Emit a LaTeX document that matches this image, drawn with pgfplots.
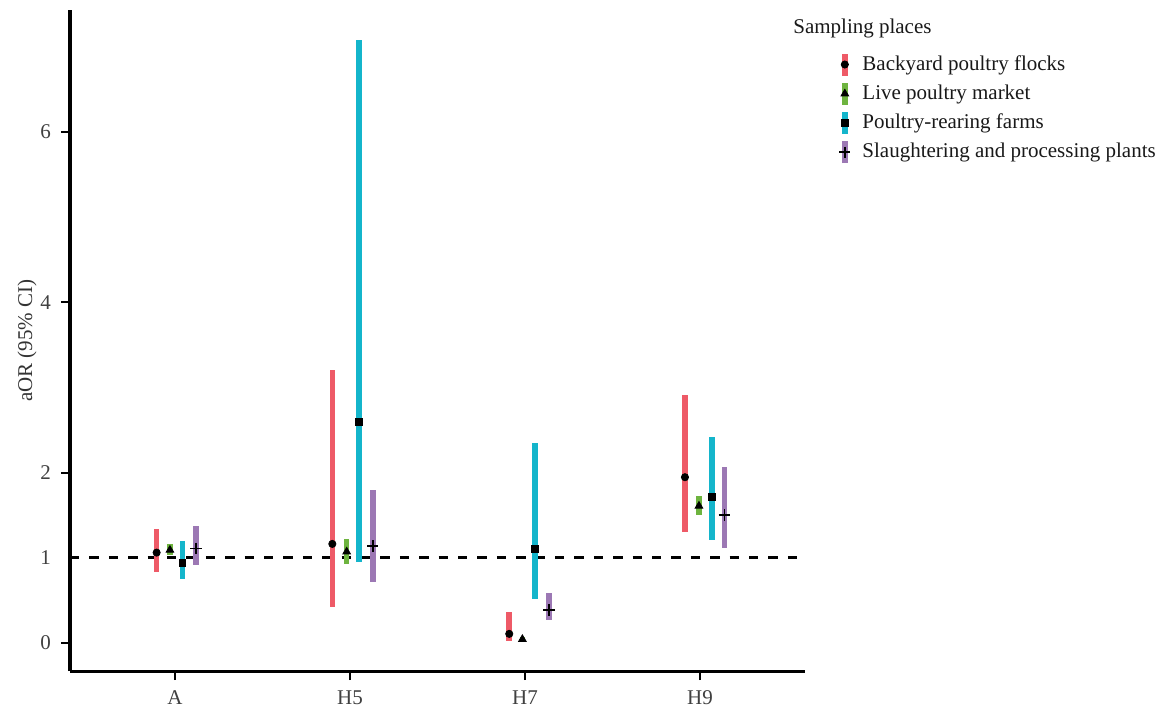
\documentclass[border=0pt]{standalone}
\usepackage{fontspec}
\setmainfont{Liberation Serif}
\usepackage{pgfplots}
\pgfplotsset{compat=1.18}
\usepackage{pgfplotstable}

\definecolor{cR}{HTML}{EE5A67}
\definecolor{cG}{HTML}{6EB43F}
\definecolor{cC}{HTML}{14B5CB}
\definecolor{cP}{HTML}{9C78B4}

% x = dodged position, y = aOR, lo/hi = 95% CI
\pgfplotstableread{
x     y      lo     hi
0.895 1.060  0.837  1.338
1.899 1.162  0.426  3.204
2.910 0.106  0.027  0.360
3.914 1.945  1.306  2.911
}\backyard
\pgfplotstableread{
x     y      lo     hi
0.971 1.090  1.030  1.158
1.981 1.070  0.927  1.220
2.985 0.043  0.020  0.070
3.994 1.608  1.502  1.725
}\market
\pgfplotstableread{
x     y      lo     hi
1.042 0.943  0.748  1.197
2.053 2.597  0.955  7.077
3.057 1.103  0.516  2.344
4.069 1.710  1.209  2.421
}\farms
\pgfplotstableread{
x     y      lo     hi
1.120 1.110  0.915  1.377
2.130 1.138  0.720  1.796
3.137 0.387  0.270  0.590
4.139 1.502  1.119  2.062
}\plants

\pgfplotsset{
  ci/.style={forget plot, draw=none, mark=none,
    error bars/.cd, y dir=both, y explicit,
    error bar style={line width=2.8pt, #1}, error mark=none},
  lgkey/.style={legend image code/.code={%
      \draw[line width=2.8pt,#1] (0.3em,-5.5pt) -- (0.3em,5.5pt);
      \draw[##1] plot coordinates {(0.3em,0pt)};}},
}

\begin{document}
\begin{tikzpicture}
\useasboundingbox (-35pt,-20pt) rectangle (547.5pt,335.5pt);
\begin{axis}[
    scale only axis,
    width=367.5pt, height=330.5pt,
    xmin=0.4, xmax=4.6,
    ymin=-0.33, ymax=7.43,
    axis lines=left,
    axis line style={-, line width=1.5pt},
    xtick={1,2,3,4},
    xticklabels={A,H5,H7,H9},
    ytick={0,2,4,6},
    extra y ticks={1},
    extra y tick style={tick style={draw=none}},
    tick align=outside,
    major tick length=4.5pt,
    tick style={black, line width=1pt},
    minor tick num=0,
    font=\fontsize{10.5}{12.6}\selectfont,
    tick label style={black!75, font=\fontsize{10.5}{12.6}\selectfont},
    yticklabel style={xshift=-1.5pt},
    xticklabel style={yshift=-2pt},
    /pgf/number format/assume math mode=true,
    ylabel={aOR (95\% CI)},
    ylabel style={at={(axis description cs:-0.036,0.5)}, anchor=south, black!80},
    legend style={at={(axis description cs:1.046,0.939)}, anchor=north west,
      draw=none, fill=none, row sep=0.8pt, column sep=4pt, inner sep=0pt,
      font=\fontsize{10.5}{12.6}\selectfont, text=black!90},
    legend cell align=left,
    clip=false,
]

% reference line at aOR = 1
\addplot[black, line width=1.3pt, dash pattern=on 4.7pt off 5pt, forget plot]
  coordinates {(0.4,1) (4.6,1)};

% confidence intervals
\addplot[ci=cR] table[x=x, y=y, y error plus expr=\thisrow{hi}-\thisrow{y}, y error minus expr=\thisrow{y}-\thisrow{lo}] {\backyard};
\addplot[ci=cG] table[x=x, y=y, y error plus expr=\thisrow{hi}-\thisrow{y}, y error minus expr=\thisrow{y}-\thisrow{lo}] {\market};
\addplot[ci=cC] table[x=x, y=y, y error plus expr=\thisrow{hi}-\thisrow{y}, y error minus expr=\thisrow{y}-\thisrow{lo}] {\farms};
\addplot[ci=cP] table[x=x, y=y, y error plus expr=\thisrow{hi}-\thisrow{y}, y error minus expr=\thisrow{y}-\thisrow{lo}] {\plants};

% point estimates
\addplot[only marks, black, mark=*, mark size=1.8pt, lgkey=cR] table[x=x, y=y] {\backyard};
\addlegendentry{Backyard poultry flocks}
\addplot[only marks, black, mark=triangle*, mark size=2.2pt, lgkey=cG] table[x=x, y=y] {\market};
\addlegendentry{Live poultry market}
\addplot[only marks, black, mark=square*, mark size=1.7pt, lgkey=cC] table[x=x, y=y] {\farms};
\addlegendentry{Poultry-rearing farms}
\addplot[only marks, black, mark=+, mark size=2.8pt, line width=0.8pt, lgkey=cP] table[x=x, y=y] {\plants};
\addlegendentry{Slaughtering and processing plants}

\node[anchor=west, font=\fontsize{10.5}{12.6}\selectfont, text=black!90]
  at (axis description cs:0.9745,0.9725) {Sampling places};
\end{axis}
\end{tikzpicture}
\end{document}
